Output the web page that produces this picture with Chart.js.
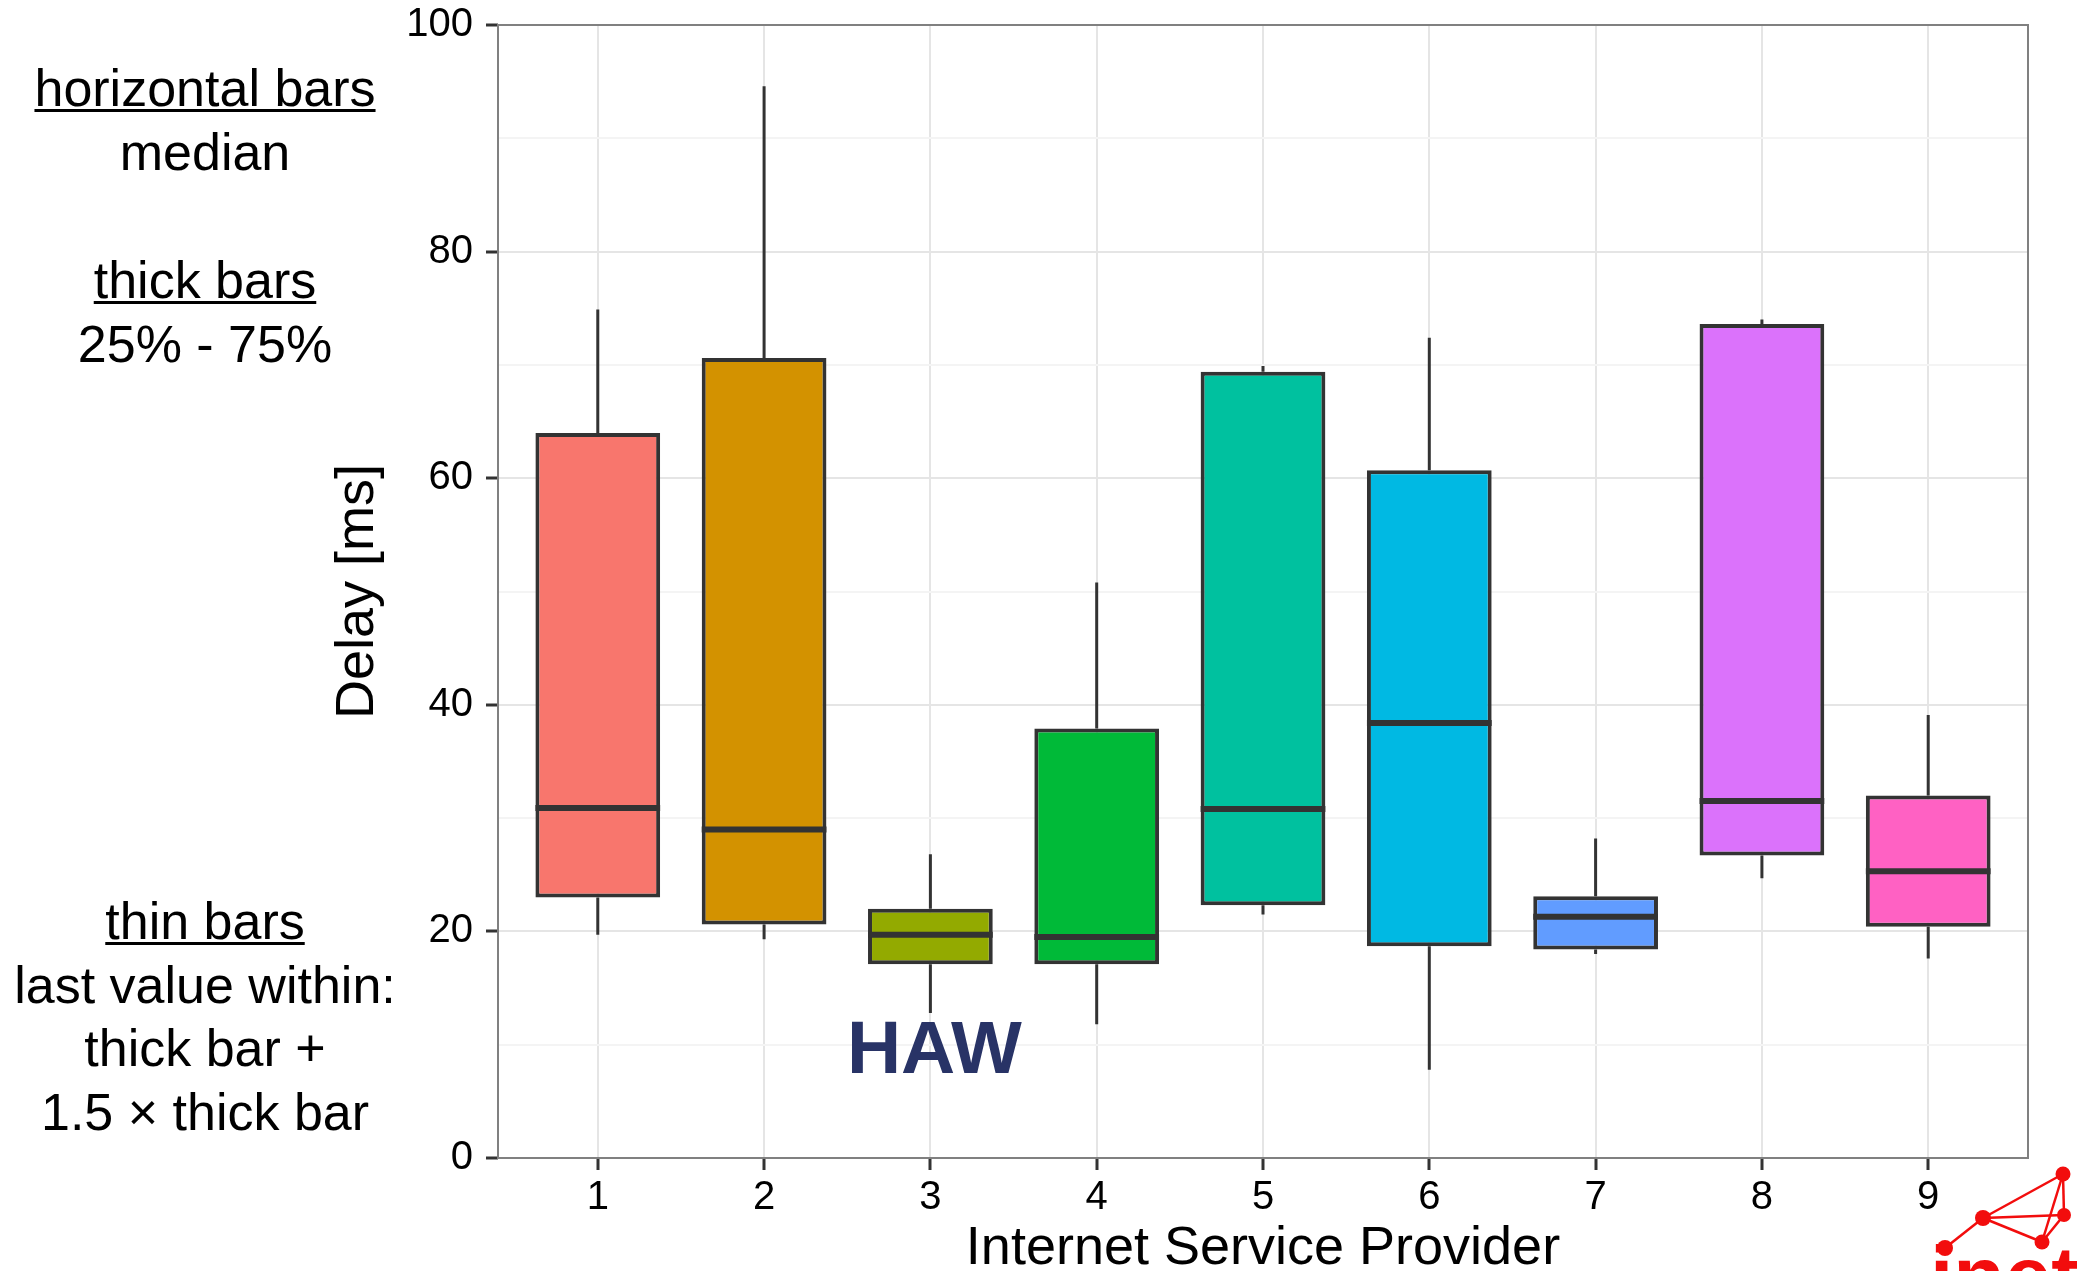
<!DOCTYPE html>
<html>
<head>
<meta charset="utf-8">
<script src="https://cdn.jsdelivr.net/npm/chart.js@4/dist/chart.umd.min.js"></script>
<style>
  html, body { margin: 0; background: #ffffff; }
  canvas { display: block; }
</style>
</head>
<body>
<canvas id="delayChart" width="2077" height="1271"></canvas>
<script>
// Delay per Internet Service Provider (box plot summary, ms)
const providers   = [1, 2, 3, 4, 5, 6, 7, 8, 9];
const whiskerLow  = [19.7, 19.3, 12.8, 11.8, 21.5,  7.8, 18.0, 24.7, 17.6];
const quartile1   = [23.0, 20.6, 17.1, 17.1, 22.3, 18.7, 18.4, 26.7, 20.4];
const medians     = [30.9, 29.0, 19.7, 19.5, 30.8, 38.4, 21.3, 31.5, 25.3];
const quartile3   = [64.0, 70.6, 22.0, 37.9, 69.4, 60.7, 23.1, 73.6, 32.0];
const whiskerHigh = [74.9, 94.6, 26.8, 50.8, 69.9, 72.4, 28.2, 74.0, 39.1];

const yGridValues = [0, 10, 20, 30, 40, 50, 60, 70, 80, 90, 100];
const yTickLabels = [0, 20, 40, 60, 80, 100];

const boxColors = ['#F8766D', '#D39200', '#93AA00', '#00BA38', '#00C19F',
                   '#00B9E3', '#619CFF', '#DB72FB', '#FF61C3'];

const FONT = '"Liberation Sans", Arial, Helvetica, sans-serif';
const INK = '#333333';

// Explanatory notes to the left of the panel
const notes = [
  { text: 'horizontal bars', y: 106, underline: true },
  { text: 'median', y: 170 },
  { text: 'thick bars', y: 298, underline: true },
  { text: '25% - 75%', y: 362 },
  { text: 'thin bars', y: 939, underline: true },
  { text: 'last value within:', y: 1003 },
  { text: 'thick bar +', y: 1066 },
  { text: '1.5 \u00d7 thick bar', y: 1130 }
];

const isMajor = v => yTickLabels.includes(v);

const boxPlotExtras = {
  id: 'boxPlotExtras',
  beforeDatasetsDraw(chart) {
    const { ctx, scales: { x, y } } = chart;
    ctx.save();
    ctx.strokeStyle = INK;
    ctx.lineWidth = 3;
    providers.forEach((p, i) => {
      const px = x.getPixelForValue(p);
      ctx.beginPath();
      ctx.moveTo(px, y.getPixelForValue(quartile3[i]));
      ctx.lineTo(px, y.getPixelForValue(whiskerHigh[i]));
      ctx.moveTo(px, y.getPixelForValue(quartile1[i]));
      ctx.lineTo(px, y.getPixelForValue(whiskerLow[i]));
      ctx.stroke();
    });
    ctx.restore();
  },
  afterDatasetsDraw(chart) {
    const { ctx, chartArea: a, scales: { x, y } } = chart;
    const bars = chart.getDatasetMeta(0).data;
    ctx.save();
    // median bars
    ctx.strokeStyle = INK;
    ctx.lineWidth = 6;
    bars.forEach((bar, i) => {
      const half = bar.width / 2;
      const ym = y.getPixelForValue(medians[i]);
      ctx.beginPath();
      ctx.moveTo(bar.x - half, ym);
      ctx.lineTo(bar.x + half, ym);
      ctx.stroke();
    });
    // panel border
    ctx.strokeStyle = '#808080';
    ctx.lineWidth = 2;
    ctx.strokeRect(a.left, a.top, a.right - a.left, a.bottom - a.top);
    // HAW marker under provider 3
    ctx.fillStyle = '#283366';
    ctx.font = 'bold 75px ' + FONT;
    ctx.textAlign = 'center';
    ctx.textBaseline = 'alphabetic';
    ctx.fillText('HAW', x.getPixelForValue(3) + 4, y.getPixelForValue(7.5));
    ctx.restore();
  },
  afterDraw(chart) {
    const { ctx } = chart;
    ctx.save();
    // notes
    ctx.fillStyle = '#000000';
    ctx.font = '52px ' + FONT;
    ctx.textAlign = 'center';
    ctx.textBaseline = 'alphabetic';
    const cx = 205;
    notes.forEach(n => {
      ctx.fillText(n.text, cx, n.y);
      if (n.underline) {
        const w = ctx.measureText(n.text).width;
        ctx.fillRect(cx - w / 2, n.y + 3, w, 3);
      }
    });
    // group logo, bottom right
    const red = '#f20d0d';
    ctx.fillStyle = red;
    ctx.font = 'bold 84px ' + FONT;
    ctx.textAlign = 'left';
    ctx.fillText('inet', 1930, 1305);
    const nodes = [[2063, 1174, 7.5], [2064, 1215, 7], [1983, 1218, 8], [2042, 1242, 7.5], [1945, 1248, 8]];
    const edges = [[4, 2], [2, 0], [2, 1], [2, 3], [0, 1], [0, 3], [1, 3]];
    ctx.strokeStyle = red;
    ctx.lineWidth = 2.5;
    edges.forEach(([s, t]) => {
      ctx.beginPath();
      ctx.moveTo(nodes[s][0], nodes[s][1]);
      ctx.lineTo(nodes[t][0], nodes[t][1]);
      ctx.stroke();
    });
    nodes.forEach(([nx, ny, r]) => {
      ctx.beginPath();
      ctx.arc(nx, ny, r, 0, Math.PI * 2);
      ctx.fill();
    });
    ctx.restore();
  }
};

new Chart(document.getElementById('delayChart'), {
  type: 'bar',
  data: {
    datasets: [{
      data: providers.map((p, i) => ({ x: p, y: [quartile1[i], quartile3[i]] })),
      backgroundColor: boxColors,
      borderColor: INK,
      borderWidth: 4,
      borderSkipped: false,
      categoryPercentage: 1,
      barPercentage: 0.75
    }]
  },
  options: {
    responsive: false,
    animation: false,
    devicePixelRatio: 1,
    layout: { padding: { left: 300, right: 49, top: 25, bottom: 0 } },
    plugins: { legend: { display: false }, tooltip: { enabled: false } },
    scales: {
      x: {
        type: 'linear',
        min: 0.4,
        max: 9.6,
        offset: false,
        afterBuildTicks: s => { s.ticks = providers.map(v => ({ value: v })); },
        afterFit: s => { s.height = 113; s.paddingLeft = 0; s.paddingRight = 0; },
        border: { display: false },
        grid: { offset: false, color: '#e5e5e5', lineWidth: 2, tickColor: INK, tickLength: 12, tickWidth: 3 },
        ticks: {
          autoSkip: false, maxRotation: 0, padding: 4, color: '#000000',
          font: { family: FONT, size: 40 },
          callback: v => String(v)
        },
        title: {
          display: true, text: 'Internet Service Provider', color: '#000000',
          font: { family: FONT, size: 54 }, padding: { top: 0, bottom: -11 }
        }
      },
      y: {
        min: 0,
        max: 100,
        afterBuildTicks: s => { s.ticks = yGridValues.map(v => ({ value: v })); },
        afterFit: s => { s.width = 198; s.paddingTop = 0; s.paddingBottom = 0; },
        border: { display: false },
        grid: {
          color: c => isMajor(c.tick.value) ? '#e5e5e5' : '#f4f4f4',
          lineWidth: 2,
          tickColor: c => isMajor(c.tick.value) ? INK : 'rgba(0,0,0,0)',
          tickLength: 12,
          tickWidth: 3
        },
        ticks: {
          autoSkip: false, padding: 13, color: '#000000',
          font: { family: FONT, size: 40 },
          callback: v => isMajor(v) ? String(v) : ''
        },
        title: {
          display: true, text: 'Delay [ms]', color: '#000000',
          font: { family: FONT, size: 54 }, padding: { top: 26, bottom: 0 }
        }
      }
    }
  },
  plugins: [boxPlotExtras]
});
</script>
</body>
</html>
